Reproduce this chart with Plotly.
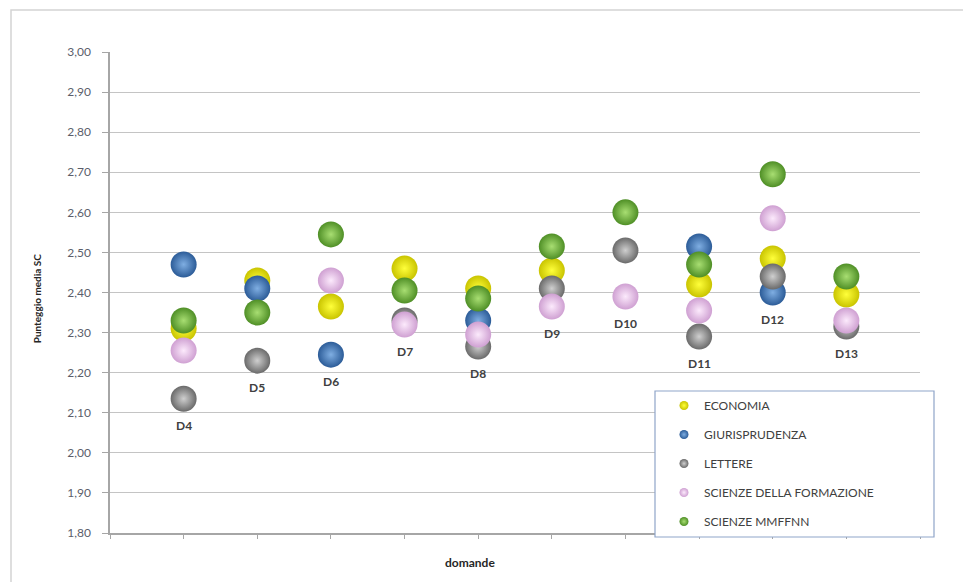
import plotly.graph_objects as go

# Questions (domande) and their position along the horizontal value axis
categories = ["D4", "D5", "D6", "D7", "D8", "D9", "D10", "D11", "D12", "D13"]
positions = [1, 2, 3, 4, 5, 6, 7, 8, 9, 10]

# Mean SC score per faculty (None = no point shown)
economia = [2.31, 2.43, 2.365, 2.46, 2.41, 2.455, None, 2.42, 2.485, 2.395]
giurisprudenza = [2.47, 2.41, 2.245, None, 2.33, None, None, 2.515, 2.40, None]
lettere = [2.135, 2.23, None, 2.33, 2.265, 2.41, 2.505, 2.29, 2.44, 2.315]
scienze_formazione = [2.255, None, 2.43, 2.32, 2.295, 2.365, 2.39, 2.355, 2.585, 2.33]
scienze_mmffnn = [2.33, 2.35, 2.545, 2.405, 2.385, 2.515, 2.60, 2.47, 2.695, 2.44]

y_ticks = [1.8, 1.9, 2.0, 2.1, 2.2, 2.3, 2.4, 2.5, 2.6, 2.7, 2.8, 2.9, 3.0]

series = [
    ("ECONOMIA", economia, "#C9C400", "#FFFF3A"),
    ("GIURISPRUDENZA", giurisprudenza, "#2C5C98", "#7FAEE2"),
    ("LETTERE", lettere, "#6A6A6A", "#CFCFCF"),
    ("SCIENZE DELLA FORMAZIONE", scienze_formazione, "#CFA0D2", "#FCEAFC"),
    ("SCIENZE MMFFNN", scienze_mmffnn, "#4F8F26", "#A8DE72"),
]

FONT = "Lato, 'Liberation Sans', sans-serif"

fig = go.Figure()

# Sphere-like markers: radial gradient from a light centre to a darker rim
for name, values, edge, centre in series:
    fig.add_trace(go.Scatter(
        x=positions, y=values, mode="markers", name=name,
        legendgroup=name, showlegend=False,
        marker=dict(size=26, color=edge, line=dict(width=0),
                    gradient=dict(type="radial", color=centre)),
        hovertemplate="%{y:.2f}<extra>" + name + "</extra>",
    ))

# Small legend entries
for name, values, edge, centre in series:
    fig.add_trace(go.Scatter(
        x=[None], y=[None], mode="markers", name=name, legendgroup=name,
        marker=dict(size=9, color=edge, line=dict(width=0),
                    gradient=dict(type="radial", color=centre)),
    ))

# Question labels under the lowest sphere of each column
annotations = []
for i, cat in enumerate(categories):
    col = [s[1][i] for s in series if s[1][i] is not None]
    annotations.append(dict(
        x=positions[i], y=min(col), xref="x", yref="y", text=cat,
        showarrow=False, yshift=-27,
        font=dict(family=FONT, size=12, color="#404040", weight="bold"),
    ))

# Axis titles
annotations.append(dict(
    x=-0.0901, y=0.488, xref="paper", yref="paper", text="Punteggio media SC",
    textangle=-90, showarrow=False, xanchor="center", yanchor="middle",
    font=dict(family=FONT, size=10, color="#262626", weight="bold"),
))
annotations.append(dict(
    x=0.444, y=-0.062, xref="paper", yref="paper", text="domande",
    showarrow=False, xanchor="center", yanchor="middle",
    font=dict(family=FONT, size=12, color="#262626", weight="bold"),
))

W, H = 963, 582
L, R, T, B = 110, 43, 52, 49
pw, ph = W - L - R, H - T - B

def px_x(p):
    return (p - L) / pw

def px_y(p):
    return (H - B - p) / ph

shapes = [
    # outer chart frame
    dict(type="rect", xref="paper", yref="paper",
         x0=px_x(11), x1=px_x(975), y0=px_y(595), y1=px_y(10),
         line=dict(color="#D4D4D4", width=1.5), fillcolor="rgba(0,0,0,0)", layer="below"),
    # legend box
    dict(type="rect", xref="paper", yref="paper",
         x0=px_x(655), x1=px_x(934), y0=px_y(537), y1=px_y(391),
         line=dict(color="#8FA5C9", width=1.2), fillcolor="white", layer="above"),
]

fig.update_layout(
    width=W, height=H,
    margin=dict(l=L, r=R, t=T, b=B, pad=0),
    paper_bgcolor="white", plot_bgcolor="white",
    separators=",.",
    font=dict(family=FONT, size=12, color="#404040"),
    showlegend=True,
    legend=dict(
        x=px_x(664), y=px_y(391), xanchor="left", yanchor="top",
        bgcolor="rgba(0,0,0,0)", borderwidth=0,
        font=dict(family=FONT, size=12, color="#404040"),
        tracegroupgap=10, itemsizing="trace",
    ),
    annotations=annotations,
    shapes=shapes,
)

fig.update_xaxes(
    range=[0, 11], dtick=1, tick0=0, showgrid=False, zeroline=False,
    showticklabels=False, ticks="outside", ticklen=4, tickcolor="#A6A6A6",
    showline=True, linecolor="#A6A6A6", linewidth=1.5,
)
fig.update_yaxes(
    range=[1.8, 3.0], tickvals=y_ticks, tickformat=".2f",
    showgrid=True, gridcolor="#C4C4C4", gridwidth=1.4, zeroline=False,
    ticks="outside", ticklen=6, tickcolor="#A6A6A6", ticklabelstandoff=9,
    showline=True, linecolor="#A6A6A6", linewidth=1.5,
    tickfont=dict(family=FONT, size=12, color="#5A5E6B"),
)

fig.write_html("out.html")
